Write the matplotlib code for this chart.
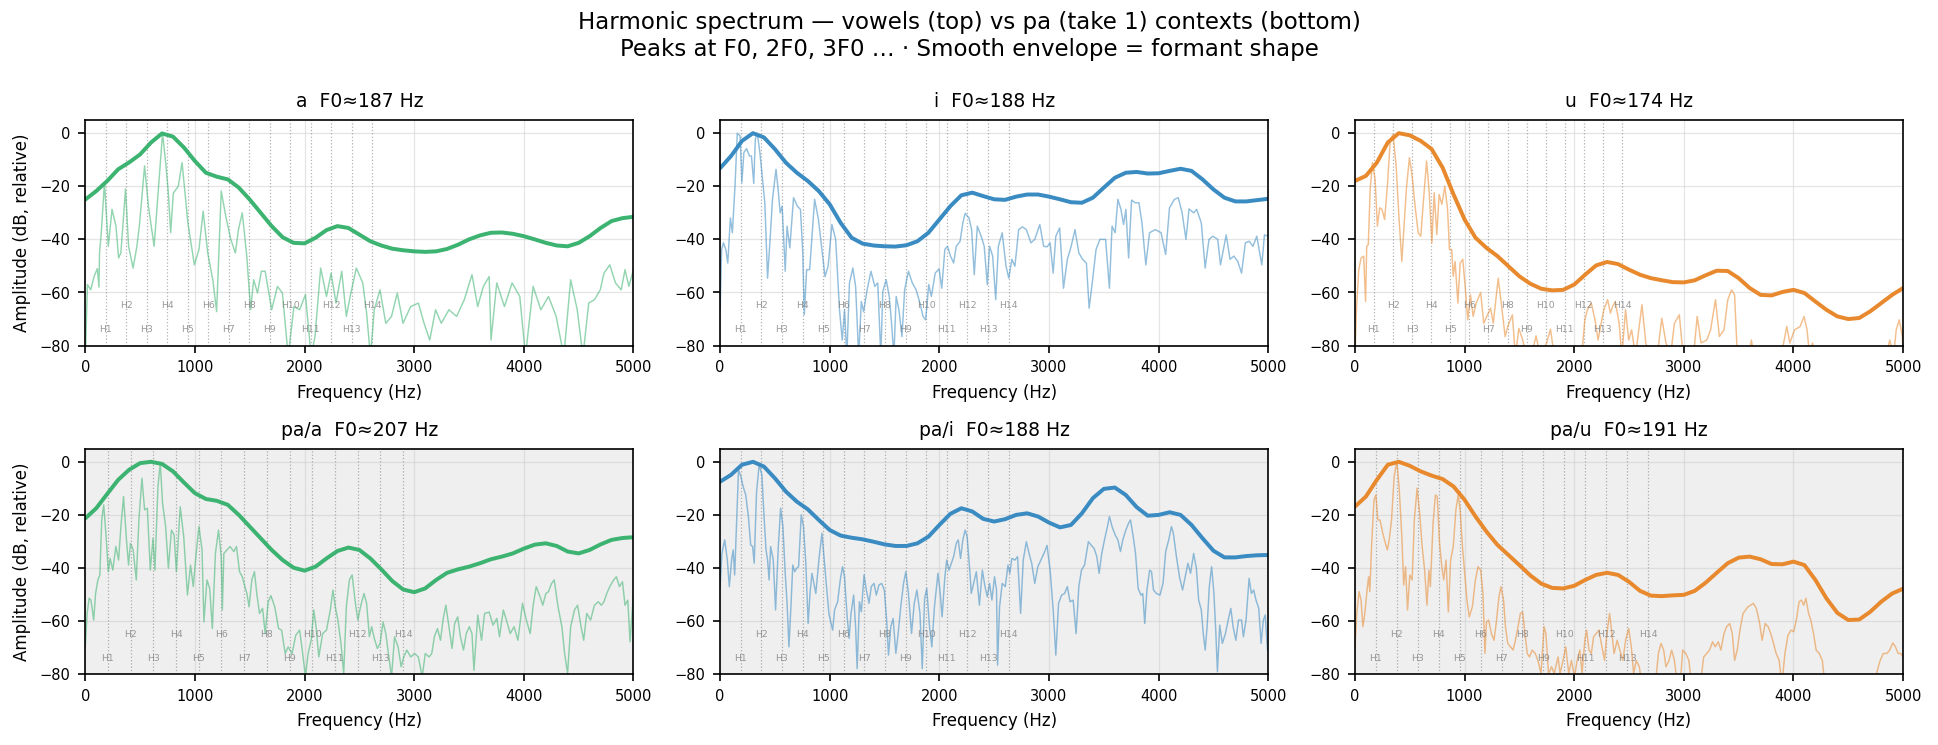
import numpy as np
import matplotlib
matplotlib.use("Agg")
from matplotlib import pyplot as plt

# envelope sampled every 100 Hz, 0..5000
env_freq = np.arange(0, 5001, 100)

env_a = [-25, -21.8, -18, -13.6, -11, -8, -3.5, -0.1, -1.3, -5.4, -10.5, -14.9, -16.4, -17.4, -20.5,
         -25, -30, -35, -39.2, -41.3, -41.5, -39.4, -36.5, -35, -35.7, -38.2, -40.7, -42.3, -43.5, -44.1,
         -44.5, -44.7, -44.5, -43.6, -42, -40, -38.5, -37.5, -37.4, -37.9, -38.8, -40, -41.3, -42.3, -42.6,
         -41.3, -38.8, -35.7, -33.1, -32, -31.5]
env_i = [-13.2, -8.6, -2.9, 0, -1.6, -6, -11.1, -14.9, -18, -21.8, -26.8, -33.8, -39.4, -41.6, -42.3,
         -42.6, -42.7, -42.2, -40.7, -37.5, -32.5, -27.5, -23.4, -22.4, -23.7, -24.9, -25.1, -23.9, -23.1, -23.1,
         -23.9, -24.9, -26, -26.2, -24.3, -20.5, -16.8, -14.9, -14.6, -15.2, -15.1, -14.2, -13.4, -14.2, -17.4,
         -21.2, -24.3, -25.7, -25.7, -25.2, -24.7]
env_u = [-18, -16.1, -11.1, -3.5, 0, -0.8, -2.9, -6, -13, -23.1, -32.5, -39.4, -43.2, -46.3, -50.1,
         -53.9, -56.7, -58.6, -59.2, -59, -57, -53.3, -49.8, -48.5, -49.3, -51.4, -53.3, -54.6, -55.4, -56.1,
         -56.2, -55.4, -53.5, -51.8, -51.9, -54.6, -58.3, -60.9, -61.1, -59.8, -59, -60.2, -63.4, -66.5, -69,
         -70, -69.6, -67.1, -64, -60.9, -58.3]
env_pa_a = [-21.3, -17.5, -12.1, -6.8, -3, -0.5, 0, -0.8, -3.6, -7.8, -11.8, -14, -14.7, -16.2, -20,
            -24.4, -28.8, -33.2, -37, -39.9, -41, -39.5, -36.4, -33.6, -32.3, -33.2, -36.4, -40.5, -44.9, -48.1,
            -49.1, -47.7, -44.5, -41.8, -40.5, -39.5, -38.2, -36.7, -35.7, -34.5, -32.7, -31.2, -30.7, -31.7, -33.8,
            -34.5, -33.2, -31.1, -29.4, -28.7, -28.4]
env_pa_i = [-7.5, -4.9, -1.1, 0, -1.8, -6.2, -11.2, -15, -17.9, -21.9, -25.7, -27.8, -28.6, -29.2, -30.1,
            -31.1, -31.7, -31.7, -30.7, -28.2, -23.8, -19.6, -17.5, -18.7, -21.5, -22.5, -21.6, -20, -19.4, -20.6,
            -22.9, -24.7, -23.8, -19.4, -13.7, -10.2, -9.7, -12.5, -17.1, -20.3, -20, -19, -20, -23.8, -28.8,
            -33.5, -36, -36, -35.5, -35.2, -35.1]
env_pa_u = [-16.9, -13.1, -6.8, -1.1, 0, -1.5, -3.6, -5.2, -6.5, -9.3, -14.3, -20.6, -26.3, -31.3, -35.1,
            -38.9, -42.8, -45.9, -47.5, -47.7, -46.7, -44.5, -42.6, -41.8, -42.6, -45.2, -48.6, -50.4, -50.6, -50.3,
            -50.1, -48.6, -45.5, -41.8, -38.2, -36.1, -35.7, -36.7, -38.5, -38.6, -37.6, -38.9, -44.5, -51.4, -56.9,
            -59.6, -59.4, -56.5, -52.7, -49.6, -47.8]

spec_a_f = [0, 20, 50, 80, 110, 125, 130, 145, 175, 210, 244, 280, 304, 325, 367, 395, 436, 471, 496, 541,
            576, 628, 670, 705, 733, 758, 779, 803, 848, 883, 936, 995, 1037, 1075, 1117, 1163, 1198, 1240, 1281,
            1327, 1369, 1397, 1432, 1473, 1508, 1536, 1571, 1606, 1641, 1700, 1753, 1798, 1851, 1903, 1955, 2008,
            2060, 2095, 2147, 2200, 2242, 2287, 2339, 2381, 2416, 2472, 2531, 2566, 2601, 2636, 2688, 2741, 2793,
            2846, 2898, 2968, 3038, 3090, 3142, 3195, 3247, 3317, 3387, 3457, 3527, 3579, 3631, 3684, 3701, 3753,
            3823, 3893, 3963, 4015, 4085, 4155, 4225, 4295, 4365, 4427, 4487, 4539, 4592, 4644, 4697, 4731, 4784,
            4836, 4888, 4923, 4958, 5000]
spec_a_db = [-85, -57, -59, -54, -51, -58, -45, -38, -18.6, -42.6, -28.7, -35, -47, -45, -21, -42.6, -50.8,
             -42.6, -33.8, -12.3, -27.5, -42.6, -19.3, 0, -11, -22.6, -37.5, -22.6, -20, -11.1, -33.8, -49.6,
             -43.8, -29.4, -45.1, -55.2, -67.2, -21.8, -31.2, -40, -45.1, -36.3, -30, -46.3, -66.5, -55.2, -60.2,
             -52, -52, -66.5, -57.7, -60.2, -84, -65.3, -66.5, -60.8, -84, -76.6, -50.8, -61.5, -52.7, -64, -52,
             -69, -61.5, -50.8, -56.4, -67.8, -84, -66.5, -59, -71.6, -69, -60.2, -71.6, -65.3, -64, -71.6,
             -77.9, -66.5, -71.6, -66.5, -69, -62.7, -53.3, -65.3, -57.7, -54, -77.9, -56.4, -65.3, -56.4, -61.5,
             -84, -57.7, -66.5, -61.5, -69, -84, -55.2, -66.5, -84, -64, -62.7, -59, -52.7, -49.6, -56.4, -59,
             -51.4, -57.7, -51.4]

spec_i_f = [0, 14, 31, 52, 70, 94, 112, 136, 157, 182, 199, 217, 241, 269, 286, 307, 321, 339, 363, 384, 408,
            433, 454, 478, 510, 531, 548, 566, 594, 611, 636, 670, 705, 733, 754, 768, 789, 817, 862, 897, 932,
            957, 985, 1020, 1054, 1089, 1114, 1135, 1156, 1180, 1211, 1236, 1264, 1288, 1309, 1341, 1376, 1411,
            1438, 1466, 1484, 1515, 1543, 1564, 1585, 1606, 1631, 1659, 1683, 1718, 1753, 1788, 1823, 1851, 1875,
            1903, 1927, 1962, 1997, 2022, 2050, 2074, 2102, 2130, 2154, 2189, 2214, 2235, 2270, 2294, 2318, 2346,
            2381, 2409, 2437, 2458, 2486, 2514, 2538, 2573, 2608, 2633, 2661, 2689, 2723, 2758, 2793, 2835, 2870,
            2916, 2951, 2982, 3010, 3038, 3062, 3097, 3132, 3167, 3202, 3237, 3272, 3306, 3341, 3366, 3394, 3429,
            3464, 3516, 3551, 3575, 3603, 3628, 3656, 3680, 3701, 3726, 3753, 3785, 3820, 3848, 3883, 3917, 3970,
            4022, 4064, 4099, 4144, 4179, 4214, 4249, 4277, 4319, 4347, 4389, 4424, 4459, 4494, 4539, 4564, 4616,
            4651, 4686, 4721, 4756, 4791, 4825, 4860, 4895, 4941, 4965, 5000]
spec_i_db = [-66.5, -43.8, -41.3, -43.8, -48.9, -31.9, -37.5, -19.9, 0, -1, -18.6, -7.3, -5.8, -8.6, -8.6,
             -18.9, -2.3, 0, -7.3, -16.1, -26.2, -54.6, -41.3, -24.9, -13.6, -21.8, -30, -27.5, -52, -35, -43.2,
             -24.3, -27.5, -28.7, -45.1, -68.4, -51.4, -51.4, -24.9, -32.5, -45.1, -54, -50.1, -34.4, -40, -66.5,
             -77.9, -66.5, -84, -56.4, -50.8, -57.7, -84, -63.4, -67.2, -59, -52, -57.7, -56.4, -84, -59.6, -55.2,
             -61.5, -71.6, -84, -61.5, -66.5, -76.6, -59, -52, -56.4, -59, -64, -69, -70.3, -57, -61.5, -52.7,
             -51.1, -58.4, -43.8, -42.6, -46.3, -48.9, -42.6, -40.7, -33.8, -30.2, -31.9, -36.3, -53.3, -35,
             -38.8, -42.6, -57, -42.6, -46.3, -62.7, -42.6, -37.5, -50.1, -54.6, -47.5, -50.1, -36.3, -35.3,
             -36.3, -41.3, -40, -34.4, -42.6, -42.8, -41.3, -52.7, -38.8, -35.7, -58.4, -47.5, -42.6, -36.3,
             -45.1, -47.5, -48.9, -65.9, -56.4, -43.8, -40, -40, -58.4, -35, -37.5, -24.9, -28.7, -34.4, -28.7,
             -47, -25.2, -26.2, -26.2, -33.8, -49.6, -37.5, -36.3, -37.5, -45.7, -28.1, -24.9, -24.3, -30, -40,
             -28.5, -30, -28.7, -33.8, -50.8, -40, -38.8, -40, -49.6, -38.3, -47.5, -46.3, -48.2, -52.7, -41.3,
             -40.7, -42.6, -38.8, -49.6, -38.3, -38.8]

spec_u_f = [0, 14, 35, 56, 80, 97, 108, 122, 139, 160, 184, 205, 226, 247, 271, 296, 323, 348, 376, 403, 428,
            445, 469, 497, 522, 549, 577, 601, 626, 654, 678, 702, 723, 747, 768, 793, 820, 845, 862, 883, 897,
            914, 939, 960, 984, 1008, 1029, 1054, 1078, 1106, 1147, 1175, 1203, 1238, 1262, 1307, 1342, 1370, 1394,
            1436, 1464, 1495, 1530, 1565, 1610, 1652, 1690, 1749, 1784, 1818, 1940, 2069, 2097, 2121, 2156, 2190,
            2218, 2246, 2270, 2305, 2330, 2350, 2375, 2410, 2434, 2469, 2497, 2524, 2559, 2618, 2653, 2690, 2757,
            2799, 2837, 2879, 2914, 2959, 2994, 3088, 3122, 3157, 3209, 3244, 3289, 3324, 3366, 3401, 3435, 3463,
            3488, 3592, 3616, 3640, 3887, 3939, 3967, 4009, 4061, 4096, 4124, 4148, 4173, 4201, 4844, 4878, 4913,
            4937, 4965, 4993, 5000]
spec_u_db = [-84, -66.5, -51.4, -47, -46.3, -63.4, -42.6, -42, -21.2, -11.1, -17.4, -35, -28.1, -28.7, -32.5,
             -19.9, -2.3, -0.4, -12.3, -32.5, -48.3, -36.9, -21.2, -9.2, -16.1, -27.5, -37.5, -38.8, -24.9, -10.5,
             -22.4, -41.3, -22.4, -38.2, -23.1, -26.8, -19.9, -28.7, -43.8, -43.8, -53.9, -48.3, -64, -48.9, -47.5,
             -59, -70.3, -60.9, -69, -64, -60, -71.6, -69, -65.9, -71.6, -54.6, -66.5, -76.6, -72.8, -68.4, -84,
             -73.5, -77.9, -84, -84, -76.3, -84, -79, -73.8, -84, -84, -84, -70.3, -66.5, -64, -70.3, -77.9,
             -71.6, -66.5, -62.7, -67.8, -65.3, -63.4, -71.6, -84, -66.5, -77.9, -74.1, -84, -64.6, -79, -84, -84,
             -69.7, -79, -84, -71.6, -68.4, -84, -84, -69, -79, -77.9, -74.1, -62.7, -76.6, -74.1, -62.7, -59,
             -60.9, -84, -84, -77.9, -84, -84, -72.8, -79, -74.1, -72.8, -69, -74.1, -84, -79, -84, -84, -77.9,
             -84, -74.1, -70.3, -76.6, -84]

spec_pa_a_f = [0, 17, 35, 52, 77, 94, 115, 133, 150, 168, 189, 210, 227, 251, 279, 304, 325, 349, 377, 395, 412,
               437, 465, 489, 517, 541, 566, 593, 618, 635, 663, 684, 705, 733, 758, 786, 810, 831, 866, 898, 932,
               960, 985, 1013, 1037, 1065, 1082, 1110, 1135, 1159, 1187, 1215, 1240, 1250, 1264, 1292, 1320, 1355,
               1379, 1407, 1432, 1456, 1474, 1494, 1519, 1543, 1564, 1589, 1617, 1641, 1669, 1693, 1728, 1763,
               1791, 1823, 1851, 1886, 1920, 1955, 1983, 2008, 2032, 2060, 2084, 2105, 2130, 2165, 2200, 2235,
               2259, 2280, 2304, 2332, 2357, 2381, 2409, 2434, 2462, 2486, 2514, 2542, 2566, 2591, 2612, 2636,
               2664, 2689, 2716, 2741, 2765, 2793, 2821, 2853, 2881, 2905, 2933, 2968, 3003, 3038, 3073, 3101,
               3136, 3160, 3184, 3212, 3240, 3265, 3289, 3317, 3345, 3369, 3397, 3422, 3450, 3475, 3503, 3527,
               3545, 3580, 3614, 3642, 3684, 3719, 3754, 3778, 3813, 3841, 3876, 3911, 3946, 3988, 4023, 4058,
               4085, 4113, 4148, 4173, 4201, 4225, 4253, 4277, 4312, 4347, 4372, 4399, 4427, 4462, 4490, 4522,
               4546, 4574, 4609, 4644, 4679, 4707, 4731, 4756, 4784, 4819, 4844, 4872, 4900, 4923, 4948, 4969,
               5000]
spec_pa_a_db = [-69.7, -57.1, -51.4, -52.1, -59.6, -49.6, -44.5, -42.6, -21.9, -16.2, -27.5, -41.4, -36.4,
                -40.8, -31.9, -37, -24.4, -13.1, -30.1, -38.9, -30.7, -33.2, -44.5, -21.9, -6.2, -18.1, -17.5,
                -40.8, -28.8, -40.8, -9.3, -0.5, -15.6, -24.4, -40.1, -25.7, -27.5, -41.4, -16.9, -28.2, -50.2,
                -38.9, -47, -33.8, -24.4, -33.2, -60.3, -44.5, -47.7, -62.8, -34.5, -25.7, -35.7, -55.8, -34.5,
                -33.2, -31.9, -33.8, -31.9, -41.4, -43.3, -47, -49.6, -54.6, -44.5, -41.4, -49.6, -57.1, -55.2,
                -64.7, -52.7, -50.4, -54.6, -62.8, -63.4, -72.2, -69.7, -72.2, -65.3, -63.4, -72.2, -81, -72.2,
                -67.2, -55.8, -62.1, -73.5, -64.7, -63.4, -55.8, -48.3, -54.6, -59.6, -68.4, -79.7, -54.6, -44.5,
                -42.6, -52.7, -59.6, -54, -49.6, -53.3, -65.9, -62.1, -66.5, -70.3, -68.4, -60.3, -64.7, -72.2,
                -81, -65.9, -69.7, -77.2, -73.5, -70.9, -73.5, -72.2, -73.5, -81, -72.2, -73.5, -72.2, -65.9,
                -62.8, -67.2, -59, -54, -62.1, -70.3, -60.9, -58.4, -65.9, -70.9, -64.7, -62.1, -64.7, -78.5,
                -57.7, -67.2, -57.1, -56.6, -61.5, -59, -65.9, -55.8, -59.6, -64.7, -62.1, -67.2, -53.3, -59.6,
                -64.7, -54, -47, -50.8, -54, -49.6, -48.9, -45.8, -44.5, -54.6, -62.1, -72.2, -79.7, -62.1,
                -55.8, -54, -62.1, -67.2, -57.1, -59.6, -54, -52.7, -54, -52.7, -49.6, -47, -44.5, -43.3, -47,
                -45.2, -54, -52.1, -67.8, -49.6]

spec_pa_i_f = [0, 17, 42, 66, 84, 105, 119, 133, 147, 168, 189, 210, 234, 258, 279, 297, 311, 332, 356, 381,
               401, 419, 433, 447, 461, 485, 506, 531, 552, 573, 594, 611, 628, 646, 663, 681, 698, 716, 740, 761,
               782, 803, 820, 838, 855, 873, 901, 929, 950, 971, 992, 1009, 1027, 1044, 1072, 1096, 1117, 1135,
               1159, 1177, 1194, 1218, 1236, 1250, 1271, 1288, 1313, 1334, 1358, 1379, 1404, 1425, 1449, 1474,
               1498, 1519, 1536, 1557, 1578, 1603, 1624, 1648, 1673, 1694, 1718, 1746, 1771, 1795, 1823, 1844,
               1865, 1885, 1910, 1931, 1955, 1987, 2008, 2025, 2050, 2067, 2088, 2109, 2130, 2154, 2172, 2193,
               2214, 2235, 2253, 2277, 2291, 2312, 2337, 2365, 2392, 2416, 2437, 2458, 2479, 2503, 2521, 2531,
               2549, 2573, 2601, 2626, 2643, 2661, 2689, 2713, 2741, 2765, 2793, 2818, 2842, 2870, 2898, 2926,
               2954, 2982, 3010, 3038, 3062, 3087, 3115, 3142, 3167, 3192, 3220, 3247, 3272, 3296, 3324, 3359,
               3387, 3411, 3436, 3457, 3481, 3509, 3533, 3551, 3575, 3603, 3628, 3652, 3673, 3701, 3726, 3743,
               3768, 3789, 3813, 3838, 3855, 3873, 3893, 3918, 3935, 3953, 3980, 4012, 4040, 4064, 4092, 4117,
               4134, 4162, 4190, 4218, 4239, 4267, 4291, 4319, 4344, 4365, 4389, 4407, 4424, 4442, 4462, 4483,
               4504, 4522, 4536, 4557, 4581, 4609, 4634, 4658, 4679, 4704, 4728, 4756, 4773, 4797, 4825, 4846,
               4867, 4888, 4913, 4934, 4955, 4972, 4993]
spec_pa_i_db = [-47, -34.5, -29.4, -37, -47, -37, -33.2, -42.6, -26.9, -3, -5.5, -9.3, -12.5, -20.6, -31.3,
                -31.9, -38.2, -11.8, -1.1, -4.9, -20.6, -33.2, -37, -44.5, -31.9, -37, -55.8, -31.9, -17.5,
                -24.4, -42, -53.3, -69.7, -54.6, -38.9, -41.4, -40.1, -39.5, -20, -24.4, -38.2, -60.9, -49.6,
                -42, -45.8, -49.6, -37, -26.9, -37, -47, -57.1, -60.3, -63.4, -55.8, -52.7, -44.5, -39.5, -43.3,
                -58.4, -66.5, -57.1, -50.2, -62.1, -77.9, -52.7, -56.5, -42.6, -48.3, -53.3, -47, -45.8, -50.2,
                -46.4, -45.8, -48.3, -59.6, -72.8, -62.1, -59, -72.2, -64.7, -54.6, -45.8, -41.4, -49.6, -64.7,
                -53.3, -48.3, -57.1, -77.9, -51.6, -47.7, -62.1, -69.7, -54.6, -42, -49.6, -58.4, -43.3, -37,
                -40.8, -38.2, -35.7, -30.7, -29.4, -36.4, -29.4, -25.7, -28.2, -40.8, -49.6, -45.8, -41.4, -54,
                -40.8, -47, -50.8, -45.8, -52.1, -43.3, -48.3, -76.6, -54.6, -45.8, -47, -38.9, -42, -36.4, -37,
                -35.7, -57.1, -37, -30.1, -34.5, -38.2, -45.8, -39.5, -37, -34.5, -31.5, -40.8, -55.8, -72.8,
                -53.3, -50.2, -49.6, -47, -52.7, -52.1, -64.7, -47, -40.8, -38.9, -30.1, -31.5, -32.6, -35.7, -42,
                -34.5, -28.8, -24.4, -20.6, -24.4, -27.5, -29.4, -33.8, -29.4, -25.7, -23.1, -21.9, -28.2, -34.5,
                -47.7, -50.2, -49.6, -60.9, -48.3, -40.8, -41.4, -48.3, -49.6, -50.2, -45.8, -33.8, -29.4, -24.4,
                -26.9, -35.7, -43.3, -48.3, -43.9, -38.2, -42, -34.5, -40.1, -52.1, -55.8, -64.7, -70.9, -62.1,
                -47, -39.5, -49.6, -64.7, -79.1, -61.5, -68.4, -64.7, -59.6, -55.2, -62.1, -67.2, -59.6, -59.6,
                -65.9, -59.6, -43.9, -49.6, -48.3, -52.1, -55.2, -68.4, -59.6, -57.7, -70.9]

spec_pa_u_f = [0, 17, 38, 56, 73, 90, 111, 125, 136, 153, 174, 191, 209, 229, 254, 278, 296, 313, 334, 358,
               382, 403, 428, 445, 462, 480, 501, 522, 542, 567, 591, 612, 636, 657, 675, 688, 713, 734, 751, 772,
               793, 810, 831, 852, 873, 897, 921, 942, 960, 981, 1001, 1022, 1043, 1071, 1099, 1123, 1147, 1168,
               1186, 1200, 1220, 1245, 1269, 1290, 1314, 1332, 1356, 1373, 1394, 1419, 1443, 1464, 1488, 1509,
               1530, 1551, 1572, 1592, 1617, 1645, 1669, 1697, 1725, 1742, 1766, 1794, 1818, 1853, 1871, 1898,
               1923, 1950, 1975, 2003, 2027, 2051, 2072, 2097, 2114, 2135, 2156, 2177, 2201, 2225, 2253, 2277,
               2298, 2323, 2344, 2364, 2392, 2416, 2444, 2469, 2497, 2521, 2542, 2566, 2594, 2618, 2740, 2768,
               2792, 2816, 2837, 2865, 2889, 2914, 2941, 2966, 2990, 3018, 3046, 3070, 3150, 3181, 3209, 3234,
               3262, 3286, 3314, 3338, 3366, 3390, 3418, 3442, 3463, 3487, 3512, 3540, 3564, 3585, 3609, 3634,
               3661, 3689, 3714, 3742, 3769, 3793, 3818, 3842, 3870, 3894, 3922, 3950, 3978, 4002, 4026, 4051,
               4072, 4093, 4113, 4138, 4158, 4183, 4207, 4235, 4263, 4287, 4322, 4722, 4757, 4791, 4819, 4850,
               4878, 4906, 4930, 4955, 4979, 5000]
spec_pa_u_db = [-69.7, -57.1, -48.9, -52.1, -62.1, -57.1, -48.3, -43.3, -48.9, -30.7, -14.3, -12.5, -21.9,
                -21.9, -26.9, -30.7, -33.2, -29.4, -21.9, -5.5, 0, -9.3, -28.2, -46.4, -39.5, -55.8, -42.6,
                -44.5, -21.9, -9.9, -19.4, -31.3, -40.8, -54, -40.8, -47, -23.1, -12.5, -13.1, -30.7, -39.5,
                -44.5, -37, -56.5, -37, -31.9, -18.1, -12.5, -18.1, -31.9, -42, -52.1, -58.4, -54.6, -44.5,
                -39.5, -40.8, -49.6, -72.2, -60.3, -59.6, -64.7, -67.2, -60.3, -50.8, -47, -52.1, -62.1, -68.4,
                -69.7, -70.9, -67.2, -62.1, -57.1, -56.5, -64.7, -72.2, -73.5, -70.9, -72.2, -74.8, -79.7, -62.1,
                -64.7, -79.7, -77.2, -79.7, -73.5, -79.7, -74.8, -69.7, -79.7, -74.8, -81, -74.8, -70.9, -79.7,
                -67.2, -63.4, -70.9, -72.2, -65.9, -64.7, -63.4, -69.7, -74.8, -64.7, -57.1, -64.7, -72.2, -67.2,
                -70.9, -74.8, -67.2, -62.8, -69.7, -79.7, -74.8, -77.2, -84, -84, -72.2, -68.4, -70.9, -77.2,
                -74.8, -70.9, -74.8, -84, -84, -70.9, -72.2, -74.8, -84, -84, -73.5, -72.2, -70.9, -67.8, -69.7,
                -67.8, -70.9, -64.7, -62.1, -60.9, -64.7, -74.8, -70.9, -63.4, -57.1, -55.8, -54.6, -54, -53.3,
                -55.2, -60.3, -67.2, -60.9, -62.1, -64.7, -68.4, -72.2, -74.8, -84, -72.2, -65.3, -63.4, -64,
                -59.6, -52.7, -52.1, -54, -51.4, -57.1, -59.6, -64.7, -70.9, -72.2, -74.8, -84, -84, -84, -79.7,
                -74.8, -72.2, -72.2, -70.9, -68.2, -69.7, -72.2, -72.2, -73.5]

titles = ["a  F0\u2248187 Hz", "i  F0\u2248188 Hz", "u  F0\u2248174 Hz",
          "pa/a  F0\u2248207 Hz", "pa/i  F0\u2248188 Hz", "pa/u  F0\u2248191 Hz"]
f0s = [187, 188, 174, 207, 188, 191]
colors = ["#3cb371", "#3a8bc2", "#e8892e"] * 2
specs = [(spec_a_f, spec_a_db), (spec_i_f, spec_i_db), (spec_u_f, spec_u_db),
         (spec_pa_a_f, spec_pa_a_db), (spec_pa_i_f, spec_pa_i_db), (spec_pa_u_f, spec_pa_u_db)]
envs = [env_a, env_i, env_u, env_pa_a, env_pa_i, env_pa_u]

fig, axes = plt.subplots(2, 3, figsize=(12.92, 4.967), dpi=150)
fig.subplots_adjust(left=0.044, right=0.982, top=0.839, bottom=0.095, wspace=0.158, hspace=0.456)

for k, ax in enumerate(axes.flat):
    c = colors[k]
    if k >= 3:
        ax.set_facecolor("#efefef")
    ax.grid(True, color="#cccccc", alpha=0.5, lw=0.6)
    ax.set_axisbelow(True)
    f0 = f0s[k]
    for h in range(1, 15):
        ax.axvline(h * f0, color="gray", ls=":", lw=0.6, alpha=0.6)
        ax.text(h * f0, -74 if h % 2 else -65, "H%d" % h, fontsize=4.5, color="gray",
                ha="center", va="center", alpha=0.8)
    sf, sdb = specs[k]
    ax.plot(sf, sdb, color=c, lw=0.7, alpha=0.55)
    ax.plot(env_freq, envs[k], color=c, lw=1.9, solid_joinstyle="round", solid_capstyle="round")
    ax.set_xlim(0, 5000)
    ax.set_ylim(-80, 5)
    ax.set_yticks([0, -20, -40, -60, -80])
    ax.set_title(titles[k], fontsize=9)
    ax.set_xlabel("Frequency (Hz)", fontsize=8)
    ax.tick_params(labelsize=7)
    if k % 3 == 0:
        ax.set_ylabel("Amplitude (dB, relative)", fontsize=8)

fig.suptitle("Harmonic spectrum \u2014 vowels (top) vs pa (take 1) contexts (bottom)\n"
             "Peaks at F0, 2F0, 3F0 \u2026 \u00b7 Smooth envelope = formant shape", fontsize=11, y=0.985)

fig.savefig("out.png", dpi=150)
